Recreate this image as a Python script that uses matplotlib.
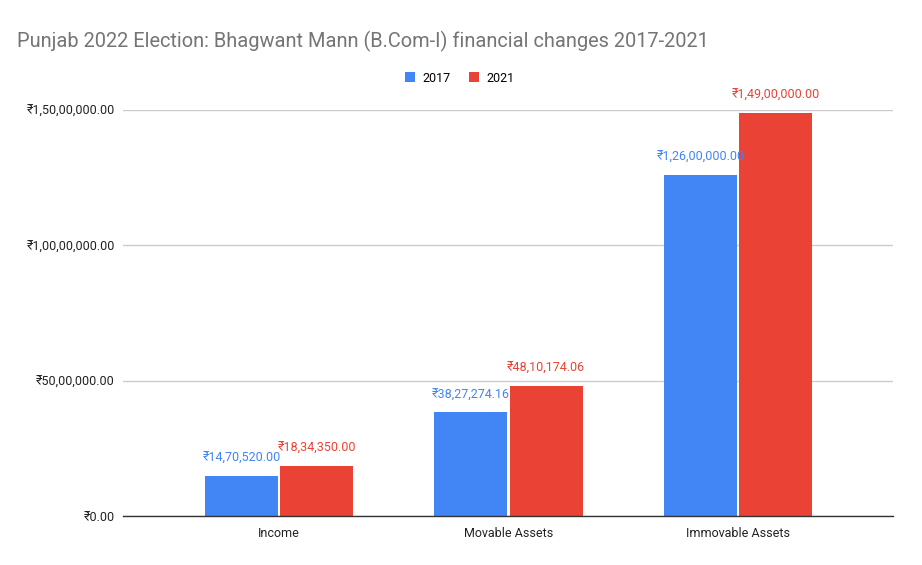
import numpy as np
import matplotlib
matplotlib.use('Agg')
import matplotlib.pyplot as plt

plt.rcParams['font.family'] = ['Roboto', 'DejaVu Sans']

categories = ['Income', 'Movable Assets', 'Immovable Assets']
years = ['2017', '2021']
values_2017 = [1470520.00, 3827274.16, 12600000.00]
values_2021 = [1834350.00, 4810174.06, 14900000.00]
labels_2017 = ['₹14,70,520.00', '₹38,27,274.16', '₹1,26,00,000.00']
labels_2021 = ['₹18,34,350.00', '₹48,10,174.06', '₹1,49,00,000.00']
yticks = [0, 5000000, 10000000, 15000000]
ytick_labels = ['₹0.00', '₹50,00,000.00', '₹1,00,00,000.00', '₹1,50,00,000.00']

blue = '#4285F4'
red = '#EA4335'

fig = plt.figure(figsize=(9.22, 5.65), dpi=100)
ax = fig.add_axes([123 / 922, 1 - 516 / 565, (893 - 123) / 922, (516 - 110) / 565])

x = np.arange(len(categories))
w = 0.318
gap = 0.005
b1 = ax.bar(x - w / 2 - gap, values_2017, w, color=blue, label=years[0])
b2 = ax.bar(x + w / 2 + gap, values_2021, w, color=red, label=years[1])

for rect, lab in zip(b1, labels_2017):
    ax.annotate(lab, (rect.get_x() + rect.get_width() / 2, rect.get_height()),
                xytext=(0, 8), textcoords='offset points', ha='center', va='bottom',
                color=blue, fontsize=9, annotation_clip=False)
for rect, lab in zip(b2, labels_2021):
    ax.annotate(lab, (rect.get_x() + rect.get_width() / 2, rect.get_height()),
                xytext=(0, 8), textcoords='offset points', ha='center', va='bottom',
                color=red, fontsize=9, annotation_clip=False)

ax.set_xlim(-0.68, 2.675)
ax.set_ylim(0, 15000000)
ax.set_yticks(yticks)
ax.set_yticklabels(ytick_labels, fontsize=9, color='#222222')
ax.set_xticks(x)
ax.set_xticklabels(categories, fontsize=9, color='#222222')
ax.tick_params(axis='y', length=0, pad=6)
ax.tick_params(axis='x', length=0, pad=8)
ax.grid(axis='y', color='#cccccc', linewidth=1)
ax.set_axisbelow(True)
for s in ['top', 'right', 'left']:
    ax.spines[s].set_visible(False)
ax.spines['bottom'].set_color('#333333')
ax.spines['bottom'].set_linewidth(1)

fig.text(17 / 922, 1 - 41 / 565, 'Punjab 2022 Election: Bhagwant Mann (B.Com-I) financial changes 2017-2021',
         fontsize=14.4, color='#757575', ha='left', va='center')

fig.legend(handles=[b1, b2], labels=years, loc='center', bbox_to_anchor=(460 / 922, 1 - 78 / 565),
           ncol=2, frameon=False, fontsize=9, handlelength=0.8, handleheight=0.8,
           columnspacing=1.5, handletextpad=0.6)

fig.savefig('out.png', dpi=100)
